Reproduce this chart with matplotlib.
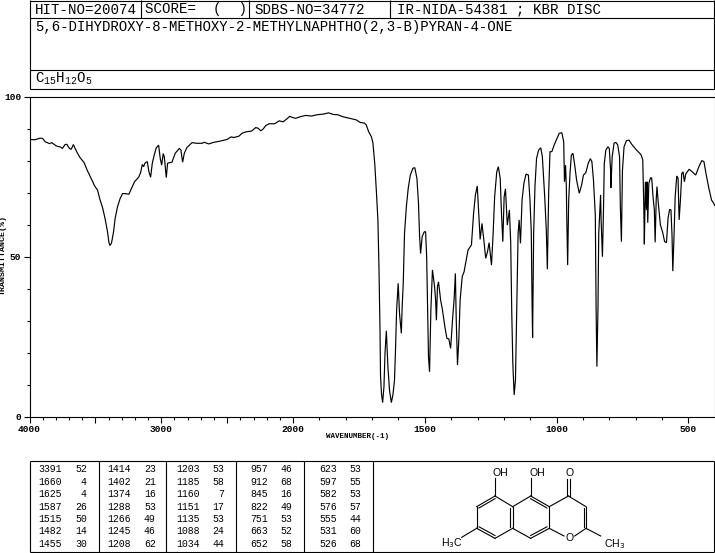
import numpy as np
import matplotlib
matplotlib.use("Agg")
import matplotlib.pyplot as plt
from matplotlib.ticker import FixedLocator, FixedFormatter

FONT = "Liberation Mono"
plt.rcParams["font.family"] = [FONT, "DejaVu Sans"]
plt.rcParams["mathtext.fontset"] = "custom"
plt.rcParams["mathtext.rm"] = FONT
plt.rcParams["mathtext.default"] = "rm"

WAVENUMBER = [4000,3996,3958,3920,3900,3882,3849,3831,3798,3763,3750,3730,3717,3697,3684,3667,3654,3636,3616,3586,3560,
 3527,3507,3484,3464,3444,3426,3408,3398,3391,3378,3362,3350,3332,3312,3294,3274,3246,3220,3203,3172,3157,3144,3134,3124,
 3106,3094,3081,3068,3053,3038,3020,3008,2997,2985,2977,2970,2962,2952,2919,2894,2863,2851,2838,2825,2805,2767,2729,2691,
 2673,2640,2602,2551,2501,2470,2450,2412,2384,2354,2315,2283,2265,2245,2228,2207,2182,2139,2106,2076,2050,2025,2000,1990,
 1972,1952,1930,1909,1886,1865,1848,1830,1811,1785,1760,1745,1729,1722,1713,1703,1697,1690,1684,1678,1674,1670,1668,1664,
 1660,1655,1651,1646,1640,1634,1627,1621,1615,1611,1607,1601,1596,1589,1586,1582,1577,1570,1563,1555,1545,1538,1530,1524,
 1520,1516,1510,1502,1497,1493,1490,1486,1482,1477,1471,1466,1463,1459,1456,1452,1448,1440,1433,1424,1416,1409,1402,1394,
 1389,1384,1381,1376,1371,1366,1358,1351,1343,1336,1323,1315,1308,1301,1296,1290,1283,1276,1269,1262,1256,1247,1241,1235,
 1227,1221,1214,1209,1204,1199,1194,1187,1179,1174,1170,1166,1161,1156,1151,1146,1142,1137,1131,1124,1116,1107,1101,1096,
 1093,1091,1087,1082,1076,1068,1060,1054,1045,1039,1035,1030,1025,1018,1009,1000,990,980,973,970,966,963,961,958,954,949,
 944,938,932,924,914,905,898,889,880,872,866,860,853,850,847,843,840,833,831,826,822,819,813,805,800,795,794,789,782,775,
 768,761,758,754,750,744,735,725,715,699,680,673,669,667,663,659,657,654,650,643,639,634,629,626,622,619,614,606,598,590,
 583,577,571,566,562,559,554,550,544,539,535,530,525,520,515,510,497,485,472,460,449,441,432,422,412,404,400]

TRANSMITTANCE = [86.6,86.6,86.5,87.0,86.9,85.9,85.3,85.6,84.6,84.2,83.8,85.0,85.1,83.8,83.5,85.0,83.8,82.3,80.9,79.4,76.8,
 74.0,72.2,70.8,67.7,65.1,61.8,57.8,54.7,53.5,54.2,57.8,62.0,65.6,68.2,69.7,69.7,69.5,71.9,73.4,74.8,76.2,78.8,78.1,79.2,
 79.7,76.6,74.8,79.2,81.8,84.0,84.8,80.7,78.6,82.2,81.2,78.1,74.7,79.2,79.5,82.3,83.8,83.3,79.5,82.3,84.1,85.6,85.4,85.4,
 85.7,85.2,85.7,86.1,86.6,87.4,87.2,87.6,88.6,89.0,89.2,90.3,90.1,89.3,89.8,90.9,91.5,91.5,92.4,92.1,92.9,93.8,93.4,93.2,
 93.7,94.1,93.9,94.3,94.5,94.9,94.4,94.3,93.7,93.2,92.7,91.9,91.7,91.1,89.0,87.5,85.6,79.1,70.8,61.5,46.9,27.1,12.6,6.9,
 4.5,9.5,19.9,26.9,15.7,8.4,4.5,6.9,11.5,21.4,33.4,41.7,32.3,26.1,34.4,41.2,57.3,65.6,71.3,75.5,77.6,77.8,74.5,66.7,
 56.8,51.0,56.3,57.8,57.8,50.0,36.5,18.8,14.1,33.4,45.9,42.7,40.7,36.5,30.2,40.7,42.2,36.5,33.4,28.2,24.5,24.4,21.4,31.3,
 36.5,44.8,31.3,16.2,24.0,36.5,43.8,45.3,49.0,52.1,53.7,63.5,69.3,72.1,64.6,55.4,60.4,55.2,49.5,51.6,54.4,47.4,56.8,68.7,
 76.5,78.1,74.5,63.5,54.7,68.7,71.2,59.9,64.6,54.2,32.3,16.7,6.9,11.5,34.4,57.3,61.5,54.2,67.7,72.9,75.8,75.5,67.7,57.8,
 35.5,24.8,57.3,71.9,80.7,83.3,84.0,81.2,68.7,58.3,46.1,69.8,82.8,82.8,84.9,86.6,88.5,88.7,85.9,73.4,78.6,71.9,60.9,47.4,67.7,76.0,
 81.7,82.3,79.1,73.9,69.8,72.4,75.5,76.2,79.1,80.6,79.7,73.9,63.0,33.4,15.7,33.4,57.3,69.3,61.5,50.0,64.6,79.1,83.3,84.3,83.8,77.0,71.5,81.2,85.4,85.7,
 84.9,81.2,65.6,54.7,77.0,84.3,86.2,86.4,85.1,83.5,81.9,80.2,65.6,53.9,73.4,64.6,73.4,60.6,72.9,74.7,74.5,68.7,64.6,54.5,67.7,71.9,66.7,59.9,57.8,54.7,
 54.4,62.0,64.8,64.6,56.8,45.5,57.3,68.7,75.2,74.5,61.5,67.7,76.0,76.5,73.4,75.8,77.3,76.5,75.5,78.1,80.0,79.7,75.5,71.3,67.7,66.7,66.0]

HEADER_CELLS = ["HIT-NO=20074", "SCORE=  (  )", "SDBS-NO=34772", "IR-NIDA-54381 ; KBR DISC"]
COMPOUND = "5,6-DIHYDROXY-8-METHOXY-2-METHYLNAPHTHO(2,3-B)PYRAN-4-ONE"
FORMULA = r"C$_{15}$H$_{12}$O$_{5}$"
X_LABEL = "WAVENUMBER(-1)"
Y_LABEL = "TRANSMITTANCE(%)"
X_MAJOR = [4000, 3500, 3000, 2500, 2000, 1500, 1000, 500]
X_LABELS = ["4000", "", "3000", "", "2000", "1500", "1000", "500"]
Y_MAJOR = [0, 50, 100]
Y_LABELS = ["0", "50", "100"]

PEAK_WN = [[3391,1660,1625,1587,1515,1482,1455],
           [1414,1402,1374,1288,1266,1245,1208],
           [1203,1185,1160,1151,1135,1088,1034],
           [957,912,845,822,751,663,652],
           [623,597,582,576,555,531,526]]
PEAK_T = [[52,4,4,26,50,14,30],
          [23,21,16,53,49,46,62],
          [53,58,7,17,53,24,44],
          [46,68,16,49,53,52,58],
          [53,55,53,57,44,60,68]]

W, H = 715, 553
fig = plt.figure(figsize=(W/100, H/100), dpi=100, facecolor="white")

page = fig.add_axes([0, 0, 1, 1])
page.set_xlim(0, W); page.set_ylim(H, 0); page.axis("off")
LW = 0.8

def hline(y, x0, x1):
    page.plot([x0, x1], [y, y], color="black", lw=LW, solid_capstyle="butt")
def vline(x, y0, y1):
    page.plot([x, x], [y0, y1], color="black", lw=LW, solid_capstyle="butt")

for y in (0.5, 17.5, 69.5, 89):
    hline(y, 29.5, 714)
vline(29.5, 0, 89); vline(714, 0, 89)
for x in (141, 249, 390):
    vline(x, 0, 17.5)

for x, s in zip((35, 145, 254, 397), HEADER_CELLS):
    page.text(x, 9.5, s, fontsize=10.2, va="center", ha="left", color="black")
page.text(35, 27, COMPOUND, fontsize=10.1, va="center", ha="left", color="black")
page.text(35, 79, FORMULA, fontsize=10.2, va="center", ha="left", color="black")

L, R, T, B = 29.5, 714.7, 96.5, 417
ax = fig.add_axes([L/W, 1-B/H, (R-L)/W, (B-T)/H])
ax.patch.set_alpha(0)
fwd = lambda v: np.where(np.asarray(v, float) <= 2000, np.asarray(v, float), 2000 + (np.asarray(v, float)-2000)/2)
inv = lambda p: np.where(np.asarray(p, float) <= 2000, np.asarray(p, float), 2000 + (np.asarray(p, float)-2000)*2)
ax.set_xscale("function", functions=(fwd, inv))
ax.set_xlim(4000, 400); ax.set_ylim(0, 100)
ax.plot(WAVENUMBER, TRANSMITTANCE, color="black", lw=0.85, solid_joinstyle="miter")
for s in ("top", "right", "left", "bottom"):
    ax.spines[s].set_linewidth(LW)
ax.xaxis.set_major_locator(FixedLocator(X_MAJOR))
ax.xaxis.set_major_formatter(FixedFormatter(X_LABELS))
ax.xaxis.set_minor_locator(FixedLocator(list(range(500, 4000, 100))))
ax.xaxis.set_minor_formatter(FixedFormatter([]))
ax.yaxis.set_major_locator(FixedLocator(Y_MAJOR))
ax.yaxis.set_major_formatter(FixedFormatter(Y_LABELS))
ax.yaxis.set_minor_locator(FixedLocator(list(range(10, 100, 10))))
ax.yaxis.set_minor_formatter(FixedFormatter([]))
ax.tick_params(axis="both", which="major", length=4, width=LW, labelsize=6.8, pad=2)
ax.tick_params(axis="both", which="minor", length=2, width=LW)
for t in ax.get_xticklabels() + ax.get_yticklabels():
    t.set_fontweight("bold")
page.text(358, 437, X_LABEL, fontsize=5.4, fontweight="bold", ha="center", va="center")
page.text(3.5, 255, Y_LABEL, fontsize=6.0, fontweight="bold", ha="center", va="center", rotation=90)

TOP, BOT = 460.5, 552
for y in (TOP, BOT):
    hline(y, 29.5, 714)
for x in (29.5, 98.7, 166.3, 235.7, 303.7, 372.5, 714):
    vline(x, TOP, BOT)
WN_RIGHT = [61.7, 130.7, 200, 267.7, 337]
T_RIGHT = [86.7, 155.7, 224, 292, 361]
ROW_Y0, ROW_DY = 469.5, 12.4
for wr, tr, ws, ts in zip(WN_RIGHT, T_RIGHT, PEAK_WN, PEAK_T):
    for i, (a, b) in enumerate(zip(ws, ts)):
        y = ROW_Y0 + i*ROW_DY
        page.text(wr, y, str(a), fontsize=7.1, ha="right", va="center")
        page.text(tr, y, str(b), fontsize=7.1, ha="right", va="center")

def sx(v): return 370 + v/3
def sy(v): return 450 + v/3
ATOMS = dict(a=(375,138), b=(320,170), c=(320,235), d=(375,265), e=(428,235), f=(428,170),
             g=(482,138), h=(538,170), i=(538,235), j=(482,265), k=(595,138), l=(648,170), m=(648,235))
BONDS = ["ab","bc","cd","de","ef","fa","fg","gh","hi","ij","je","hk","kl","lm"]
DOUBLE = ["ab","cd","ef","gh","ij","lm"]
CENTERS = dict(ab=(375,200), cd=(375,200), ef=(375,200), gh=(482,200), ij=(482,200), lm=(595,200))
for b in BONDS:
    p, q = ATOMS[b[0]], ATOMS[b[1]]
    page.plot([sx(p[0]), sx(q[0])], [sy(p[1]), sy(q[1])], color="black", lw=LW)
for b in DOUBLE:
    p, q = np.array(ATOMS[b[0]], float), np.array(ATOMS[b[1]], float)
    c = np.array(CENTERS[b], float)
    p2, q2 = p + (c-p)*0.13, q + (c-q)*0.13
    page.plot([sx(p2[0]), sx(q2[0])], [sy(p2[1]), sy(q2[1])], color="black", lw=LW)
SINGLE_EXTRA = [((375,138),(375,85)), ((482,138),(482,85)), ((320,235),(275,262)),
                ((648,235),(692,258)), ((538,235),(582,258)), ((648,235),(614,258))]
for p, q in SINGLE_EXTRA:
    page.plot([sx(p[0]), sx(q[0])], [sy(p[1]), sy(q[1])], color="black", lw=LW)
for off in (-5, 5):
    page.plot([sx(595+off), sx(595+off)], [sy(138), sy(88)], color="black", lw=LW)
SANS = "Liberation Sans"
for x, y, s, ha in [(392,69,"OH","center"), (502,69,"OH","center"), (598,69,"O","center"), (598,263,"O","center"),
                    (247,280,"H$_3$C","center"), (733,281,"CH$_3$","center")]:
    page.text(sx(x), sy(y), s, fontsize=7.6, family=[SANS, "DejaVu Sans"], ha=ha, va="center", math_fontfamily="dejavusans")

fig.savefig("out.png", dpi=100, facecolor="white")
